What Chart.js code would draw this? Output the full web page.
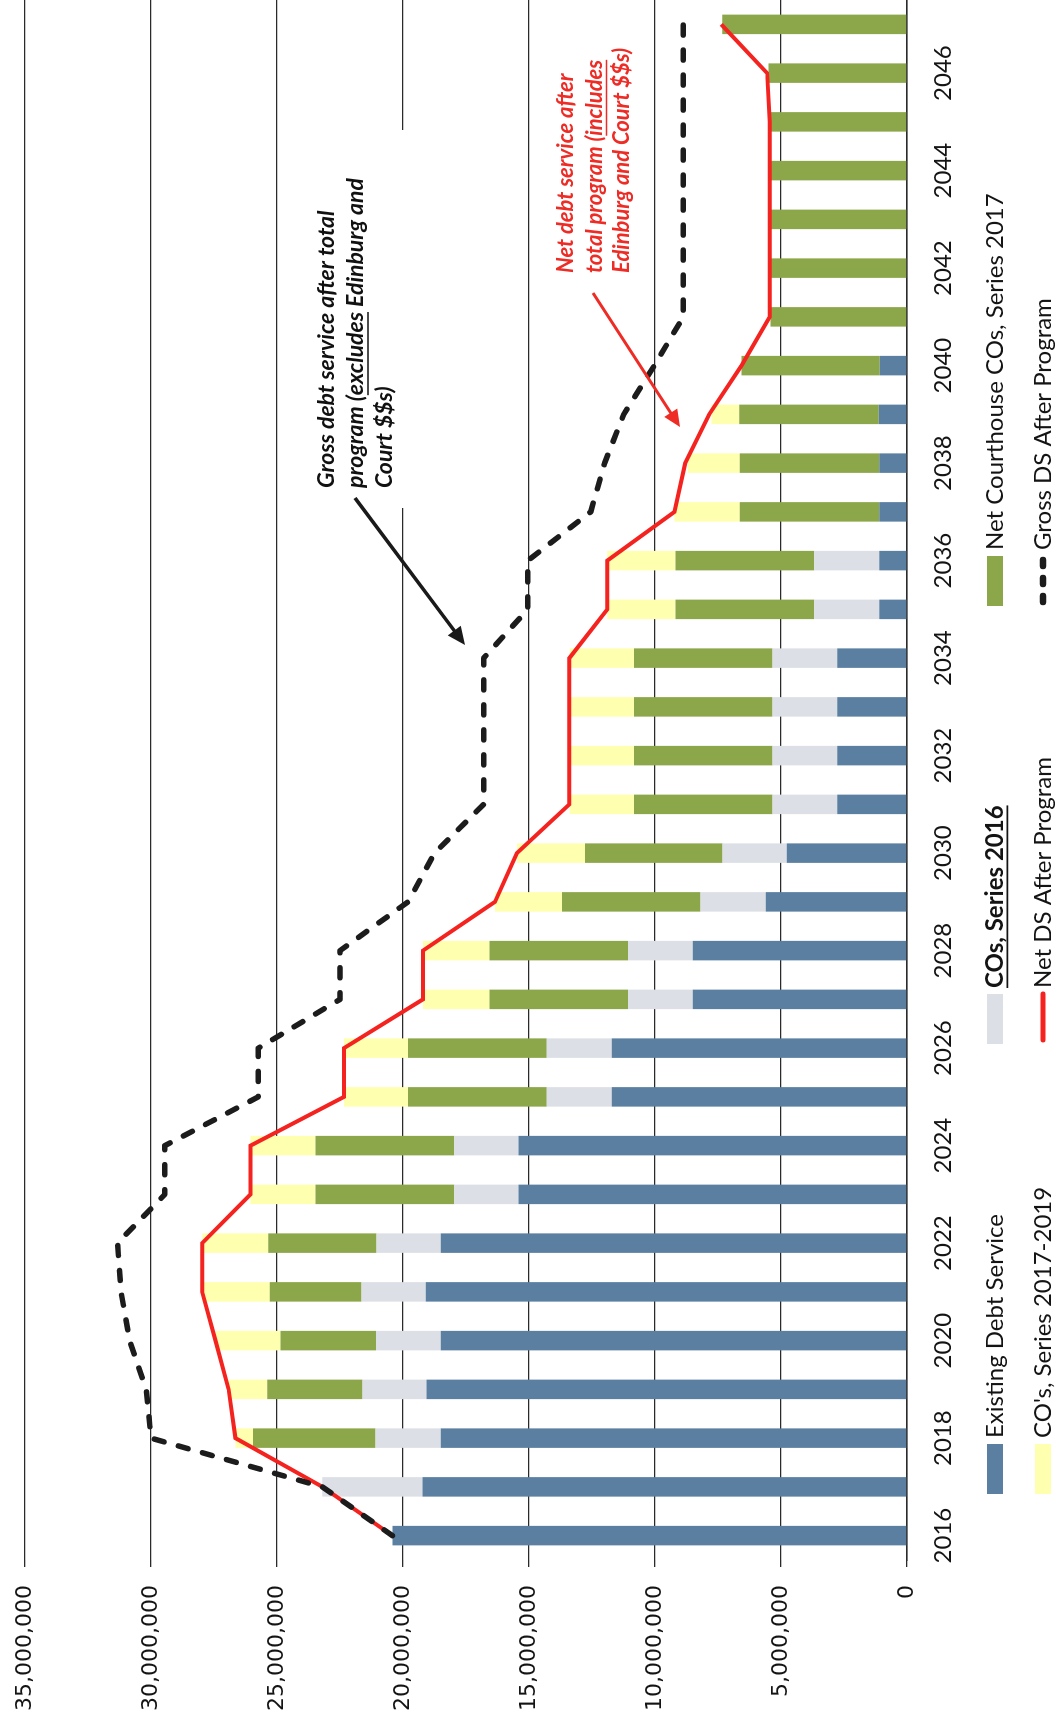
<!DOCTYPE html>
<html>
<head>
<meta charset="utf-8">
<script src="https://cdn.jsdelivr.net/npm/chart.js@4.4.1/dist/chart.umd.min.js"></script>
<style>
  html, body { margin: 0; padding: 0; background: #ffffff; width: 1056px; height: 1722px; overflow: hidden; }
  /* The chart is laid out landscape and turned a quarter turn counter-clockwise onto the portrait page. */
  #sheet { position: absolute; left: 0; top: 0; width: 1722px; height: 1056px;
           transform-origin: 0 0; transform: translateY(1722px) rotate(-90deg); }
  canvas { display: block; }
</style>
</head>
<body>
<div id="sheet"><canvas id="chart" width="1722" height="1056"></canvas></div>
<script>
// Fiscal years shown on the category axis
const years = [2016, 2017, 2018, 2019, 2020, 2021, 2022, 2023, 2024, 2025, 2026, 2027, 2028, 2029, 2030, 2031,
               2032, 2033, 2034, 2035, 2036, 2037, 2038, 2039, 2040, 2041, 2042, 2043, 2044, 2045, 2046, 2047];
const yearTickLabels = ['2016', '2018', '2020', '2022', '2024', '2026', '2028', '2030',
                        '2032', '2034', '2036', '2038', '2040', '2042', '2044', '2046'];
const valueTicks = [0, 5000000, 10000000, 15000000, 20000000, 25000000, 30000000, 35000000];

// Annual debt service by component (dollars)
const existingDebtService = [20420000, 19230000, 18500000, 19070000, 18500000, 19100000, 18500000, 15420000,
                             15420000, 11720000, 11720000, 8500000, 8500000, 5610000, 4770000, 2770000,
                             2770000, 2770000, 2770000, 1100000, 1100000, 1100000, 1100000, 1120000,
                             1080000, 0, 0, 0, 0, 0, 0, 0];
const cosSeries2016 = [0, 3970000, 2590000, 2540000, 2570000, 2550000, 2550000, 2550000,
                       2550000, 2580000, 2580000, 2570000, 2570000, 2580000, 2550000, 2570000,
                       2570000, 2570000, 2570000, 2580000, 2580000, 0, 0, 0,
                       0, 0, 0, 0, 0, 0, 0, 0];
const netCourthouseCOs2017 = [0, 0, 4860000, 3780000, 3790000, 3640000, 4300000, 5500000,
                              5500000, 5500000, 5500000, 5500000, 5500000, 5500000, 5460000, 5490000,
                              5490000, 5490000, 5490000, 5510000, 5510000, 5540000, 5540000, 5540000,
                              5490000, 5420000, 5420000, 5420000, 5420000, 5420000, 5500000, 7330000];
const cosSeries2017to2019 = [0, 0, 700000, 1530000, 2580000, 2680000, 2620000, 2580000,
                             2580000, 2540000, 2540000, 2640000, 2640000, 2660000, 2700000, 2550000,
                             2550000, 2550000, 2550000, 2700000, 2700000, 2590000, 2060000, 1100000,
                             0, 0, 0, 0, 0, 0, 0, 0];
const netDSAfterProgram = [20420000, 23200000, 26650000, 26920000, 27440000, 27970000, 27970000, 26050000,
                           26050000, 22340000, 22340000, 19210000, 19210000, 16350000, 15480000, 13400000,
                           13400000, 13400000, 13400000, 11890000, 11890000, 9230000, 8800000, 7850000,
                           6570000, 5450000, 5450000, 5450000, 5450000, 5450000, 5550000, 7370000];
const grossDSAfterProgram = [20420000, 23200000, 30000000, 30190000, 30850000, 31190000, 31330000, 29450000,
                             29450000, 25740000, 25740000, 22500000, 22500000, 19800000, 18750000, 16800000,
                             16800000, 16800000, 16800000, 15050000, 15050000, 12550000, 12000000, 11240000,
                             10030000, 8880000, 8880000, 8880000, 8880000, 8880000, 8880000, 8880000];

const COLORS = {
  existing: '#5a7fa1',
  co2016: '#dcdfe5',
  courthouse: '#8ca64a',
  co2017: '#ffffb0',
  net: '#f5231f',
  gross: '#1c1c1c',
  grid: '#2a2a2a',
  text: '#141414'
};

// Legend grid: two rows of three keys beneath the axis
const legendRows = [[0, 1, 2], [3, 4, 5]];
const legendCols = [228, 678, 1116];
const legendRowY = [995, 1043];
const LEGEND_FONT = '24px Lato';
const LEGEND_FONT_BOLD = 'bold 24px Lato';

// Write a run of text pieces, underlining the flagged ones
function drawRich(ctx, parts, x, y, font, color) {
  ctx.font = font;
  ctx.fillStyle = color;
  ctx.strokeStyle = color;
  ctx.textBaseline = 'middle';
  ctx.textAlign = 'left';
  let cx = x;
  const size = parseFloat(font.match(/(\d+(\.\d+)?)px/)[1]);
  parts.forEach(p => {
    const w = ctx.measureText(p.t).width;
    ctx.fillText(p.t, cx, y);
    if (p.u) {
      ctx.lineWidth = Math.max(1.2, size / 14);
      ctx.beginPath();
      ctx.moveTo(cx, y + size * 0.52);
      ctx.lineTo(cx + w, y + size * 0.52);
      ctx.stroke();
    }
    cx += w;
  });
}

function drawArrow(ctx, x1, y1, x2, y2, color, width, head) {
  const a = Math.atan2(y2 - y1, x2 - x1);
  ctx.save();
  ctx.strokeStyle = color;
  ctx.fillStyle = color;
  ctx.lineWidth = width;
  ctx.beginPath();
  ctx.moveTo(x1, y1);
  ctx.lineTo(x2 - Math.cos(a) * head * 0.8, y2 - Math.sin(a) * head * 0.8);
  ctx.stroke();
  ctx.beginPath();
  ctx.moveTo(x2, y2);
  ctx.lineTo(x2 - head * Math.cos(a) + head * 0.45 * Math.sin(a), y2 - head * Math.sin(a) - head * 0.45 * Math.cos(a));
  ctx.lineTo(x2 - head * Math.cos(a) - head * 0.45 * Math.sin(a), y2 - head * Math.sin(a) + head * 0.45 * Math.cos(a));
  ctx.closePath();
  ctx.fill();
  ctx.restore();
}

const legendAndNotes = {
  id: 'legendAndNotes',
  afterDraw(chart) {
    const ctx = chart.ctx;
    const ds = chart.data.datasets;

    // legend keys
    legendRows.forEach((row, r) => {
      row.forEach((di, c) => {
        const d = ds[di];
        const x = legendCols[c];
        const y = legendRowY[r];
        ctx.save();
        if (d.type === 'line') {
          ctx.strokeStyle = d.borderColor;
          ctx.lineWidth = d.borderWidth + 1;
          ctx.lineCap = 'round';
          ctx.setLineDash(d.legendDash || []);
          ctx.beginPath();
          ctx.moveTo(x + 4, y);
          ctx.lineTo(x + 50, y);
          ctx.stroke();
          ctx.setLineDash([]);
        } else {
          ctx.fillStyle = d.backgroundColor;
          ctx.fillRect(x, y - 8, 50, 16);
        }
        const emphasised = d.legendEmphasis === true;
        drawRich(ctx, [{ t: d.label, u: emphasised }], x + 56, y,
                 emphasised ? LEGEND_FONT_BOLD : LEGEND_FONT, COLORS.text);
        ctx.restore();
      });
    });

    // note on gross debt service, on a white panel
    ctx.save();
    ctx.fillStyle = '#ffffff';
    ctx.fillRect(1214, 306, 378, 100);
    const blackFont = 'italic bold 23px Lato';
    drawRich(ctx, [{ t: 'Gross debt service after total', u: false }], 1234, 327, blackFont, '#111111');
    drawRich(ctx, [{ t: 'program (', u: false }, { t: 'excludes', u: true }, { t: ' Edinburg and', u: false }],
             1234, 356, blackFont, '#111111');
    drawRich(ctx, [{ t: 'Court $$s)', u: false }], 1234, 385, blackFont, '#111111');
    ctx.restore();
    drawArrow(ctx, 1224, 355, 1077, 465, '#1a1a1a', 3.5, 18);

    // note on net debt service
    ctx.save();
    const redFont = 'italic bold 22px Lato';
    drawRich(ctx, [{ t: 'Net debt service after', u: false }], 1449, 566, redFont, '#ee2b24');
    drawRich(ctx, [{ t: 'total program (', u: false }, { t: 'includes', u: true }],
             1449, 595, redFont, '#ee2b24');
    drawRich(ctx, [{ t: 'Edinburg and Court $$s)', u: false }], 1449, 622, redFont, '#ee2b24');
    ctx.restore();
    drawArrow(ctx, 1429, 593, 1295, 680, '#ee2b24', 3, 17);
  }
};

const barCommon = { type: 'bar', stack: 'debt', borderWidth: 0, categoryPercentage: 1.0, barPercentage: 0.4, order: 2 };

new Chart(document.getElementById('chart'), {
  type: 'bar',
  data: {
    labels: years,
    datasets: [
      Object.assign({ label: 'Existing Debt Service', data: existingDebtService, backgroundColor: COLORS.existing }, barCommon),
      Object.assign({ label: 'COs, Series 2016', data: cosSeries2016, backgroundColor: COLORS.co2016, legendEmphasis: true }, barCommon),
      Object.assign({ label: 'Net Courthouse COs, Series 2017', data: netCourthouseCOs2017, backgroundColor: COLORS.courthouse }, barCommon),
      Object.assign({ label: "CO's, Series 2017-2019", data: cosSeries2017to2019, backgroundColor: COLORS.co2017 }, barCommon),
      { type: 'line', label: 'Net DS After Program', data: netDSAfterProgram, stack: 'net', order: 1,
        borderColor: COLORS.net, backgroundColor: COLORS.net, borderWidth: 4, pointRadius: 0, tension: 0,
        borderJoinStyle: 'miter', fill: false },
      { type: 'line', label: 'Gross DS After Program', data: grossDSAfterProgram, stack: 'gross', order: 0,
        borderColor: COLORS.gross, backgroundColor: COLORS.gross, borderWidth: 5.5, pointRadius: 0, tension: 0,
        borderDash: [10, 15], legendDash: [6, 12], borderCapStyle: 'round', borderJoinStyle: 'round', fill: false }
    ]
  },
  options: {
    responsive: false,
    animation: false,
    devicePixelRatio: 1,
    layout: { padding: { left: 0, right: 0, top: 25, bottom: 0 } },
    plugins: { legend: { display: false }, tooltip: { enabled: false } },
    scales: {
      x: {
        stacked: true,
        offset: true,
        grid: { display: false, drawTicks: false },
        border: { display: true, color: COLORS.grid, width: 1.6 },
        ticks: {
          autoSkip: false, maxRotation: 0, minRotation: 0, padding: 22,
          color: COLORS.text, font: { family: 'Lato', size: 24 },
          callback: function (value, index) {
            const y = String(years[index]);
            return yearTickLabels.includes(y) ? y : '';
          }
        },
        afterFit: function (scale) { scale.height = 149; }
      },
      y: {
        stacked: true,
        min: 0,
        max: 35000000,
        afterBuildTicks: function (scale) { scale.ticks = valueTicks.map(v => ({ value: v })); },
        grid: { color: COLORS.grid, lineWidth: 1.3, drawTicks: true, tickLength: 7 },
        border: { display: false },
        ticks: {
          padding: 18,
          color: COLORS.text, font: { family: 'DejaVu Sans', size: 22 },
          callback: function (value) { return Number(value).toLocaleString('en-US'); }
        },
        afterFit: function (scale) {
          scale.width = 162;
          scale.paddingTop = 0;
          scale.paddingBottom = 0;
        }
      }
    }
  },
  plugins: [legendAndNotes]
});
</script>
</body>
</html>
